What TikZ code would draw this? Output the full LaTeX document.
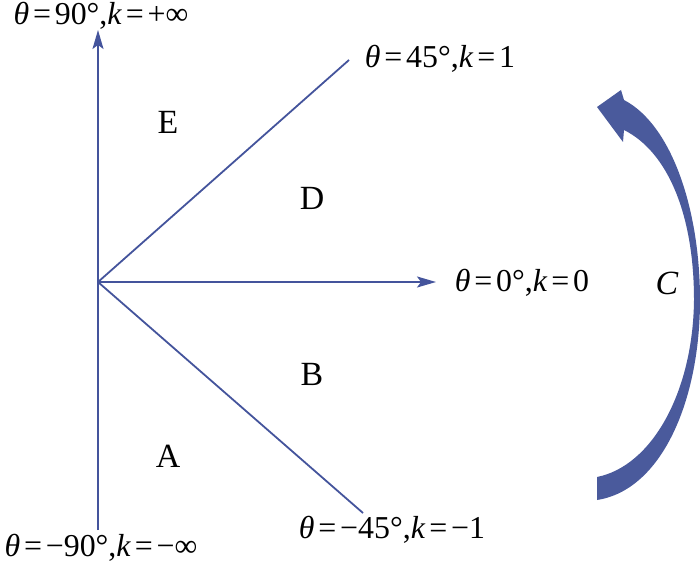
\documentclass[tikz,border=0pt]{standalone}
\usepackage{fontspec}
\setmainfont{Liberation Serif}
\usetikzlibrary{arrows.meta}
\definecolor{ax}{RGB}{68,84,156}
\definecolor{bigarrow}{RGB}{74,90,156}
\newcommand{\eqs}{\hspace{0.12em}=\hspace{0.12em}}
\begin{document}
\begin{tikzpicture}[x=1bp,y=-1bp,
  axline/.style={draw=ax,line width=1.8bp},
  axarrow/.style={axline,-{Stealth[length=19bp,width=11bp,inset=4bp]}},
  lbl/.style={font=\fontsize{32}{32}\selectfont,inner sep=0pt},
  region/.style={font=\fontsize{34}{34}\selectfont,inner sep=0pt}]
\useasboundingbox (0,0) rectangle (700,565);
\coordinate (O) at (98,282);
\coordinate (top) at (98,30);
\coordinate (bot) at (98,530);
\coordinate (right) at (436,282);
\coordinate (ur) at (349,60);
\coordinate (lr) at (363,513);
\draw[axarrow] (bot) -- (top);
\draw[axarrow] (O) -- (right);
\draw[axline] (O) -- (ur);
\draw[axline] (O) -- (lr);
\node[lbl] (l90) at (101,16) {\textit{θ}\eqs90°,\textit{k}\eqs+∞};
\node[lbl] (l45) at (440,59) {\textit{θ}\eqs45°,\textit{k}\eqs1};
\node[lbl] (l0) at (522,283) {\textit{θ}\eqs0°,\textit{k}\eqs0};
\node[lbl] (lm45) at (392,530) {\textit{θ}\eqs−45°,\textit{k}\eqs−1};
\node[lbl] (lm90) at (101,548) {\textit{θ}\eqs−90°,\textit{k}\eqs−∞};
\node[region] (E) at (168,122) {E};
\node[region] (D) at (312,198) {D};
\node[region] (B) at (312,374) {B};
\node[region] (A) at (168,456) {A};
\node[region] (C) at (667,283) {\textit{C}};
\fill[bigarrow] (597,107) -- (621,90) -- (624,100)
  .. controls (672,125) and (700,210) .. (700,300)
  .. controls (700,400) and (662,490) .. (597,500)
  -- (597,477)
  .. controls (652,466) and (693,392) .. (694,300)
  .. controls (694,215) and (668,152) .. (624,130)
  -- (623,142) -- cycle;
\end{tikzpicture}
\end{document}
